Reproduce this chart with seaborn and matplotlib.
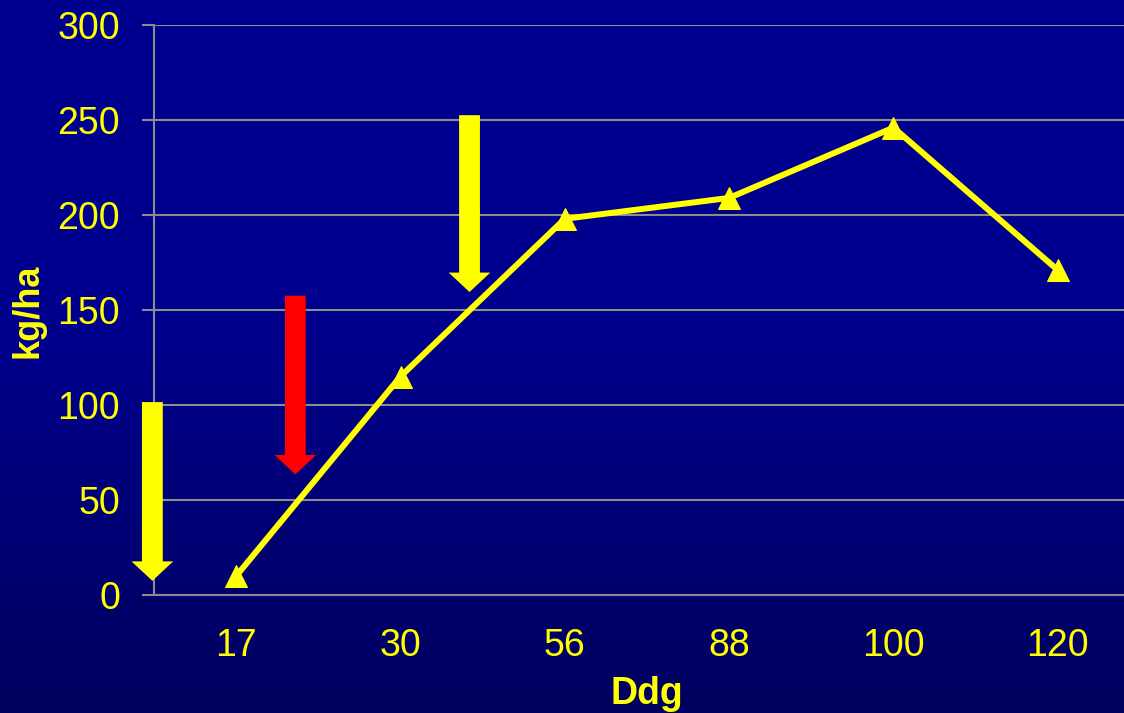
import numpy as np
import pandas as pd
import matplotlib
matplotlib.use("Agg")
import matplotlib.pyplot as plt
import seaborn as sns
from matplotlib.patches import FancyArrowPatch

# Yield over days after germination
ddg = ["17", "30", "56", "88", "100", "120"]
kg_ha = [10, 115, 198, 209, 246, 171]

y_ticks = [0, 50, 100, 150, 200, 250, 300]

# Vertical marker arrows: (x position in category units, start value, end value, colour)
arrow_x = [-0.51, 0.36, 1.42]
arrow_top = [103, 159, 254]
arrow_bottom = [6, 62, 158]
arrow_colors = ["#FFFF00", "#FF0000", "#FFFF00"]

YELLOW = "#FFFF00"
GRID = "#8C8C8C"

sns.set_theme(style="white")
plt.rcParams["font.family"] = ["Liberation Sans", "DejaVu Sans"]

fig = plt.figure(figsize=(11.24, 7.13), dpi=100)

# Blue slide background with darker lower edge
bg = fig.add_axes([0, 0, 1, 1], zorder=-10)
rows = 713
frac = np.linspace(0, 1, rows)
blue = np.where(frac < 0.45, 142, 142 - (frac - 0.45) / 0.55 * 48)
img = np.zeros((rows, 2, 3))
img[:, :, 2] = blue[:, None] / 255.0
bg.imshow(img, aspect="auto", extent=[0, 1, 0, 1], origin="upper")
bg.set_axis_off()

ax = fig.add_axes([154 / 1124, 118 / 713, 986 / 1124, 570 / 713])
ax.set_facecolor("none")

df = pd.DataFrame({"Ddg": ddg, "kg/ha": kg_ha})
sns.lineplot(data=df, x="Ddg", y="kg/ha", ax=ax, color=YELLOW, linewidth=4.3,
             marker="^", markersize=16, markeredgecolor=YELLOW, sort=False,
             clip_on=False, zorder=5)

ax.set_xlim(-0.5, 5.5)
ax.set_ylim(0, 300)
ax.set_yticks(y_ticks)
ax.yaxis.grid(True, color=GRID, linewidth=1.5)
ax.xaxis.grid(False)
for side in ["top", "right"]:
    ax.spines[side].set_visible(False)
for side in ["left", "bottom"]:
    ax.spines[side].set_color(GRID)
    ax.spines[side].set_linewidth(1.5)

ax.tick_params(axis="y", which="major", length=8.5, width=1.5, color=GRID,
               labelsize=27, labelcolor=YELLOW, pad=16, left=True)
ax.tick_params(axis="x", length=0, labelsize=27, labelcolor=YELLOW, pad=24)

ax.set_xlabel("Ddg", fontsize=27, fontweight="bold", color=YELLOW)
ax.set_ylabel("kg/ha", fontsize=26, fontweight="bold", color=YELLOW)
ax.xaxis.set_label_coords((647 - 154) / 986, -(676 - 595) / 570)
ax.yaxis.set_label_coords((46 - 154) / 986, (595 - 311) / 570)

for x, y0, y1, c in zip(arrow_x, arrow_top, arrow_bottom, arrow_colors):
    arr = FancyArrowPatch((x, y0), (x, y1),
                          arrowstyle="simple,head_length=14,head_width=30,tail_width=15",
                          mutation_scale=1, color=c, linewidth=0,
                          clip_on=False, zorder=4)
    ax.add_patch(arr)

fig.savefig("out.png", dpi=100)
